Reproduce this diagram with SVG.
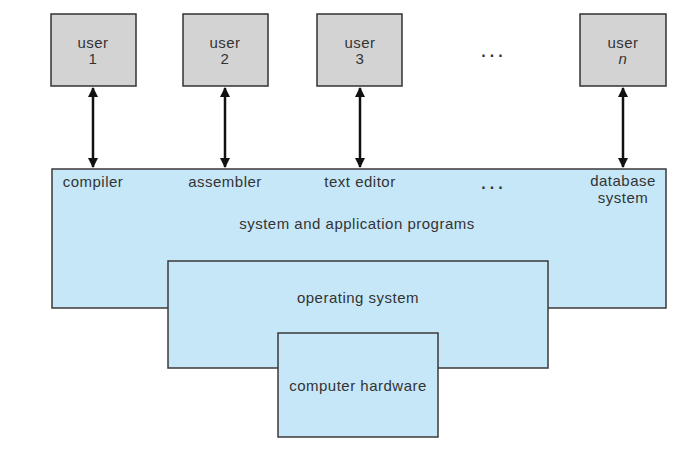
<svg xmlns="http://www.w3.org/2000/svg" width="684" height="468" viewBox="0 0 684 468">
<style>
.user{fill:#d3d3d3;stroke:#333;stroke-width:1.5}
.layer{fill:#c6e7f8;stroke:#3a3a3a;stroke-width:1.5}
text{font-family:"Liberation Sans",Arial,sans-serif;font-size:15px;fill:#333;text-anchor:middle;letter-spacing:0.5px}
.arrow{stroke:#111;stroke-width:2.5;fill:none;marker-start:url(#ah);marker-end:url(#ah)}
.dots{font-weight:bold;letter-spacing:4px;font-size:16px}
</style>
<defs>
<marker id="ah" viewBox="0 0 10 10" refX="9" refY="5" markerWidth="4" markerHeight="4" orient="auto-start-reverse" markerUnits="strokeWidth">
<path d="M0,0 L10,5 L0,10 z" fill="#111"/>
</marker>
</defs>
<rect width="684" height="468" fill="#fff"/>
<g id="apps">
<rect class="layer" x="52" y="169" width="614" height="139"/>
<text x="93" y="187">compiler</text>
<text x="225" y="187">assembler</text>
<text x="360" y="187">text editor</text>
<text class="dots" x="494" y="189">...</text>
<text x="623" y="186">database</text>
<text x="623" y="203">system</text>
<text x="357" y="229">system and application programs</text>
</g>
<g id="os">
<rect class="layer" x="168" y="261" width="380" height="107"/>
<text x="358" y="303">operating system</text>
</g>
<g id="hardware">
<rect class="layer" x="278" y="333" width="160" height="104"/>
<text x="358" y="391">computer hardware</text>
</g>
<g id="user1">
<rect class="user" x="51" y="14" width="85" height="72"/>
<text x="93" y="48">user</text>
<text x="93" y="64">1</text>
</g>
<g id="user2">
<rect class="user" x="183" y="14" width="85" height="72"/>
<text x="225" y="48">user</text>
<text x="225" y="64">2</text>
</g>
<g id="user3">
<rect class="user" x="317" y="14" width="85" height="72"/>
<text x="360" y="48">user</text>
<text x="360" y="64">3</text>
</g>
<g id="userdots">
<text class="dots" x="494" y="57">...</text>
</g>
<g id="usern">
<rect class="user" x="580" y="14" width="86" height="72"/>
<text x="623" y="48">user</text>
<text x="623" y="64" font-style="italic">n</text>
</g>
<g id="connectors">
<line class="arrow" x1="93" y1="88" x2="93" y2="167"/>
<line class="arrow" x1="225" y1="88" x2="225" y2="167"/>
<line class="arrow" x1="360" y1="88" x2="360" y2="167"/>
<line class="arrow" x1="623" y1="88" x2="623" y2="167"/>
</g>
</svg>
